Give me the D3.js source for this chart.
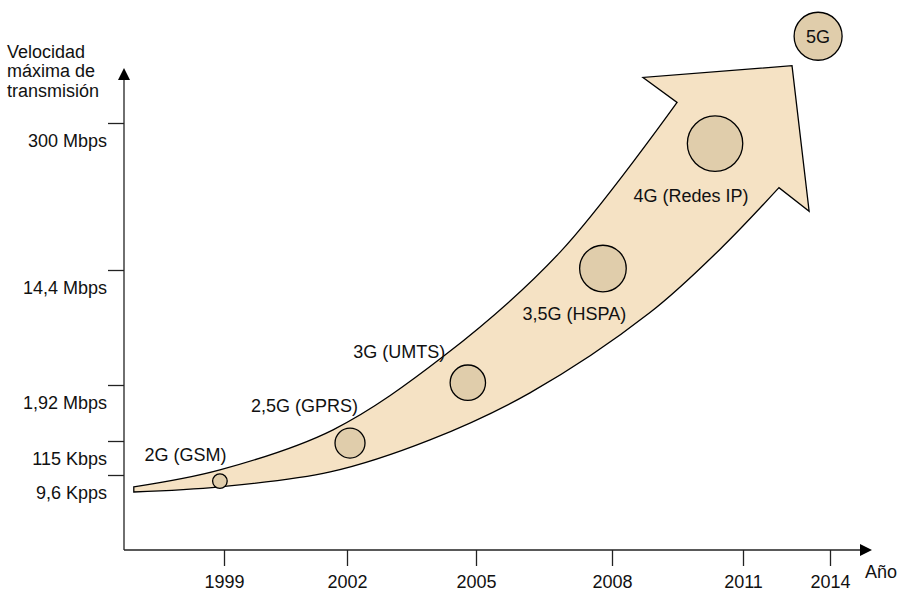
<!DOCTYPE html>
<html>
<head>
<meta charset="utf-8">
<script src="https://cdn.jsdelivr.net/npm/d3@7"></script>
<style>
  html, body { margin: 0; padding: 0; background: #fff; }
  svg { display: block; font-family: "Liberation Sans", Arial, sans-serif; }
</style>
</head>
<body>
<svg id="chart" width="897" height="592"></svg>
<script>
// ---- data ----
const years = [1999, 2002, 2005, 2008, 2011, 2014];
const speedLevels = [0, 1, 2, 3, 4];
const speedLabels = ["9,6 Kpps", "115 Kbps", "1,92 Mbps", "14,4 Mbps", "300 Mbps"];
const yTitle = ["Velocidad", "máxima de", "transmisión"];
const xTitle = "Año";

const generations = ["2G (GSM)", "2,5G (GPRS)", "3G (UMTS)", "3,5G (HSPA)", "4G (Redes IP)", "5G"];
const genYear  = [1998.9, 2002.07, 2004.81, 2007.8, 2010.36, 2013.59];
const genLevel = [-0.18, 0.94, 2.02, 3.01, 3.86, 4.59];

// arrow outline in data units (year, speed level)
const arrowUpperYear  = [1996.8, 1998.9, 2001.66, 2004.28, 2006.85, 2009.49];
const arrowUpperLevel = [-0.35, 0.15, 1.20, 2.26, 3.12, 4.14];
const arrowLowerYear  = [1996.8, 1998.9, 2001.59, 2003.93, 2006.19, 2008.87, 2010.47, 2012.24];
const arrowLowerLevel = [-0.5, -0.35, 0.09, 1.02, 1.86, 2.63, 3.14, 3.56];
const arrowHeadYear   = [2008.71, 2012.69, 2013.28];
const arrowHeadLevel  = [4.31, 4.39, 3.40];

// ---- layout / style ----
const bubbleRadius = [7.3, 15, 17.7, 23.3, 27.7, 24];
const labelOffset = [[-34.5, -26], [-45.5, -37], [-68.5, -31], [-28.5, 45], [-24, 52], [0, 0]];
const arrowFill = "#f5e2c4";
const bubbleFill = "#e0cdab";
const ink = "#111";
const fontSize = 18;

const svg = d3.select("#chart");

const x = d3.scaleLinear().domain(years).range([224, 347, 476, 612, 743, 830]);
const y = d3.scaleLinear().domain(speedLevels).range([475, 441, 385, 270, 123]);

const axisX0 = 124, axisY0 = 550;

// ---- arrow shape ----
const line = d3.line().x(d => x(d[0])).y(d => y(d[1])).curve(d3.curveCatmullRom.alpha(0.5));
const upper = arrowUpperYear.map((v, i) => [v, arrowUpperLevel[i]]);
const lower = arrowLowerYear.map((v, i) => [v, arrowLowerLevel[i]]).reverse();
const head = arrowHeadYear.map((v, i) => [x(v), y(arrowHeadLevel[i])]);
const pathD = line(upper) +
  head.map(p => "L" + p[0] + "," + p[1]).join("") +
  line(lower).replace(/^M/, "L") + "Z";

svg.append("path")
  .attr("d", pathD)
  .attr("fill", arrowFill)
  .attr("stroke", "#000")
  .attr("stroke-width", 1.3)
  .attr("stroke-linejoin", "miter");

// ---- axes ----
const axisColor = "#222";
svg.append("line")
  .attr("x1", axisX0).attr("y1", axisY0).attr("x2", axisX0).attr("y2", 78)
  .attr("stroke", axisColor).attr("stroke-width", 1.3);
svg.append("path")
  .attr("d", `M${axisX0},68 L${axisX0 - 6},80 L${axisX0 + 6},80 Z`)
  .attr("fill", "#000");
svg.append("line")
  .attr("x1", axisX0).attr("y1", axisY0).attr("x2", 862).attr("y2", axisY0)
  .attr("stroke", axisColor).attr("stroke-width", 1.3);
svg.append("path")
  .attr("d", `M872,${axisY0} L860,${axisY0 - 6} L860,${axisY0 + 6} Z`)
  .attr("fill", "#000");

const yAxis = d3.axisLeft(y)
  .tickValues(speedLevels)
  .tickFormat((d, i) => speedLabels[i])
  .tickSize(16)
  .tickPadding(1);
const gy = svg.append("g").attr("transform", `translate(${axisX0},0)`).call(yAxis);
gy.select(".domain").remove();
gy.selectAll(".tick line").attr("stroke", axisColor).attr("stroke-width", 1.3);
gy.selectAll(".tick text")
  .attr("y", 17.5)
  .attr("fill", ink)
  .style("font-size", fontSize + "px")
  .style("font-family", '"Liberation Sans", Arial, sans-serif');

const xAxis = d3.axisBottom(x)
  .tickValues(years)
  .tickFormat(d3.format("d"))
  .tickSize(16)
  .tickPadding(9);
const gx = svg.append("g").attr("transform", `translate(0,${axisY0})`).call(xAxis);
gx.select(".domain").remove();
gx.selectAll(".tick line").attr("stroke", axisColor).attr("stroke-width", 1.3);
gx.selectAll(".tick text")
  .attr("fill", ink)
  .style("font-size", fontSize + "px")
  .style("font-family", '"Liberation Sans", Arial, sans-serif');

// axis titles
svg.append("g").selectAll("text")
  .data(yTitle)
  .join("text")
  .attr("x", 7)
  .attr("y", (d, i) => 57.5 + i * 19.5)
  .attr("fill", ink)
  .style("font-size", fontSize + "px")
  .text(d => d);

svg.append("text")
  .attr("x", 865)
  .attr("y", 572)
  .attr("dy", "0.35em")
  .attr("fill", ink)
  .style("font-size", fontSize + "px")
  .text(xTitle);

// ---- bubbles ----
const gens = generations.map((g, i) => ({ name: g, year: genYear[i], level: genLevel[i], r: bubbleRadius[i], off: labelOffset[i] }));

svg.append("g").selectAll("circle")
  .data(gens)
  .join("circle")
  .attr("cx", d => x(d.year))
  .attr("cy", d => y(d.level))
  .attr("r", d => d.r)
  .attr("fill", bubbleFill)
  .attr("stroke", "#000")
  .attr("stroke-width", 1.3);

svg.append("g").selectAll("text")
  .data(gens)
  .join("text")
  .attr("x", d => x(d.year) + d.off[0])
  .attr("y", d => y(d.level) + d.off[1])
  .attr("dy", "0.35em")
  .attr("text-anchor", "middle")
  .attr("fill", ink)
  .style("font-size", fontSize + "px")
  .text(d => d.name);
</script>
</body>
</html>
